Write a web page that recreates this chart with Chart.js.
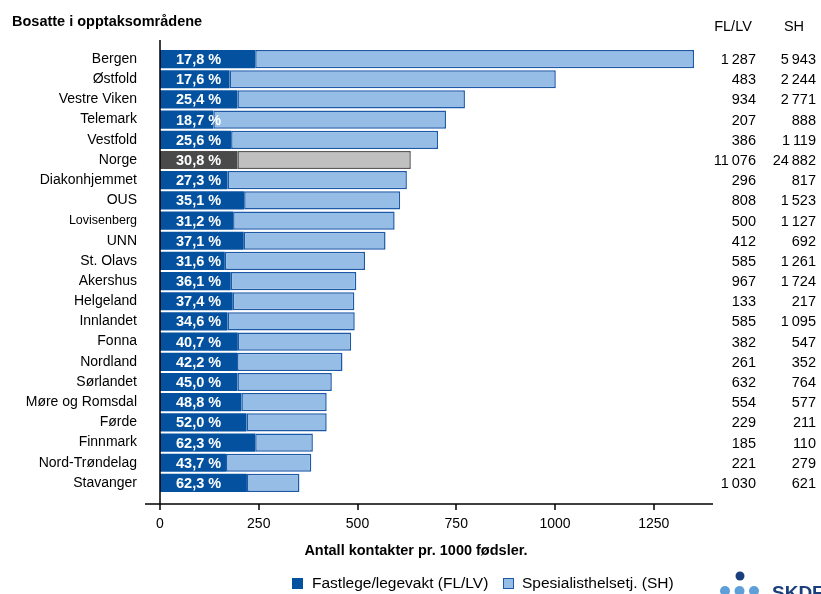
<!DOCTYPE html>
<html>
<head>
<meta charset="utf-8">
<script src="https://cdn.jsdelivr.net/npm/chart.js@4.4.1/dist/chart.umd.min.js"></script>
<style>
  body { margin: 0; background: #fff; }
  #wrap { width: 821px; height: 594px; position: relative; }
</style>
</head>
<body>
<div id="wrap"><canvas id="chart" width="821" height="594"></canvas></div>
<script>
// Data lest av figuren
const categories = ['Bergen', 'Østfold', 'Vestre Viken', 'Telemark', 'Vestfold', 'Norge', 'Diakonhjemmet',
    'OUS', 'Lovisenberg', 'UNN', 'St. Olavs', 'Akershus', 'Helgeland', 'Innlandet', 'Fonna', 'Nordland',
    'Sørlandet', 'Møre og Romsdal', 'Førde', 'Finnmark', 'Nord-Trøndelag', 'Stavanger'];
const flValues = [241, 176, 196, 135, 180, 196, 171, 213, 185, 212, 164, 179, 184, 171, 197, 195, 196, 206, 219, 241, 167, 220];
const shValues = [1111, 826, 576, 589, 524, 439, 454, 395, 409, 359, 355, 318, 308, 322, 287, 267, 239, 216, 203, 146, 216, 133];
const pctLabels = ['17,8 %', '17,6 %', '25,4 %', '18,7 %', '25,6 %', '30,8 %', '27,3 %', '35,1 %', '31,2 %', '37,1 %',
    '31,6 %', '36,1 %', '37,4 %', '34,6 %', '40,7 %', '42,2 %', '45,0 %', '48,8 %', '52,0 %', '62,3 %', '43,7 %', '62,3 %'];
const flCounts = [1287, 483, 934, 207, 386, 11076, 296, 808, 500, 412, 585, 967, 133, 585, 382, 261, 632, 554, 229, 185, 221, 1030];
const shCounts = [5943, 2244, 2771, 888, 1119, 24882, 817, 1523, 1127, 692, 1261, 1724, 217, 1095, 547, 352, 764, 577, 211, 110, 279, 621];
const xTicks = [0, 250, 500, 750, 1000, 1250];

const FONT = 'Liberation Sans, Arial, sans-serif';
const darkBlue = '#0451a0';
const lightBlue = '#96bde6';
const borderBlue = '#1c5aa8';

// Norge i grått
const flColors = categories.map(c => c === 'Norge' ? '#4a4a4a' : darkBlue);
const shColors = categories.map(c => c === 'Norge' ? '#c0c0c0' : lightBlue);
const shBorders = categories.map(c => c === 'Norge' ? '#5a5a5a' : borderBlue);

function fmt(n) {
    return String(n).replace(/\B(?=(\d{3})+(?!\d))/g, '\u2009');
}

// Tegner tekst, akser, tabell og legende rundt selve plottet
const extras = {
    id: 'extras',
    afterDraw(chart) {
        const ctx = chart.ctx;
        const y = chart.scales.y;
        const x = chart.scales.x;
        ctx.save();

        // tittel
        ctx.fillStyle = '#000';
        ctx.font = 'bold 14.5px ' + FONT;
        ctx.textAlign = 'left';
        ctx.textBaseline = 'middle';
        ctx.fillText('Bosatte i opptaksområdene', 12, 22);

        // kolonneoverskrifter
        ctx.font = '14.5px ' + FONT;
        ctx.textAlign = 'center';
        ctx.fillText('FL/LV', 733, 27);
        ctx.fillText('SH', 794, 27);

        categories.forEach((c, i) => {
            const py = y.getPixelForValue(i);
            ctx.fillStyle = '#000';
            ctx.font = '14.5px ' + FONT;
            ctx.textAlign = 'right';
            ctx.fillText(fmt(flCounts[i]), 756, py + 1);
            ctx.fillText(fmt(shCounts[i]), 816, py + 1);
            // prosent i søylen
            ctx.fillStyle = '#fff';
            ctx.font = 'bold 14.5px ' + FONT;
            ctx.textAlign = 'left';
            ctx.fillText(pctLabels[i], 176, py + 1);
        });

        // akselinjer
        ctx.strokeStyle = '#000';
        ctx.lineWidth = 1.5;
        ctx.beginPath();
        ctx.moveTo(160, 40);
        ctx.lineTo(160, 510);
        ctx.moveTo(145, 504);
        ctx.lineTo(713, 504);
        xTicks.forEach(t => {
            const px = Math.round(x.getPixelForValue(t));
            ctx.moveTo(px, 504);
            ctx.lineTo(px, 510);
        });
        ctx.stroke();

        // aksetittel
        ctx.fillStyle = '#000';
        ctx.font = 'bold 14.5px ' + FONT;
        ctx.textAlign = 'center';
        ctx.fillText('Antall kontakter pr. 1000 fødsler.', 416, 551);

        // legende
        ctx.font = '15.5px ' + FONT;
        ctx.textAlign = 'left';
        ctx.fillStyle = darkBlue;
        ctx.fillRect(292, 578, 11, 11);
        ctx.fillStyle = '#000';
        ctx.fillText(chart.data.datasets[0].label, 312, 584);
        ctx.fillStyle = lightBlue;
        ctx.fillRect(503, 578, 11, 11);
        ctx.strokeStyle = borderBlue;
        ctx.lineWidth = 1;
        ctx.strokeRect(503.5, 578.5, 10, 10);
        ctx.fillStyle = '#000';
        ctx.fillText(chart.data.datasets[1].label, 522, 584);

        // SKDE-logo
        ctx.fillStyle = '#1b3f7c';
        ctx.beginPath();
        ctx.arc(740, 576, 4.5, 0, Math.PI * 2);
        ctx.fill();
        ctx.fillStyle = '#5e9fd8';
        [725, 739.5, 754].forEach(cx => {
            ctx.beginPath();
            ctx.arc(cx, 591, 5, 0, Math.PI * 2);
            ctx.fill();
        });
        ctx.fillStyle = '#1b3f7c';
        ctx.font = 'bold 19px ' + FONT;
        ctx.textBaseline = 'alphabetic';
        ctx.fillText('SKDE', 772, 599);

        ctx.restore();
    }
};

new Chart(document.getElementById('chart'), {
    type: 'bar',
    data: {
        labels: categories,
        datasets: [{
            label: 'Fastlege/legevakt (FL/LV)',
            data: flValues,
            backgroundColor: flColors,
            borderWidth: 0,
            barPercentage: 0.9,
            categoryPercentage: 1
        }, {
            label: 'Spesialisthelsetj. (SH)',
            data: shValues,
            backgroundColor: shColors,
            borderColor: shBorders,
            borderWidth: 1.5,
            borderSkipped: false,
            barPercentage: 0.9,
            categoryPercentage: 1
        }]
    },
    options: {
        indexAxis: 'y',
        responsive: false,
        animation: false,
        layout: { padding: { top: 49, right: 108, bottom: 0, left: 0 } },
        plugins: {
            legend: { display: false },
            tooltip: { enabled: false }
        },
        scales: {
            x: {
                stacked: true,
                min: 0,
                max: 1400,
                grid: { display: false },
                border: { display: false },
                afterBuildTicks: s => { s.ticks = xTicks.map(v => ({ value: v })); },
                afterFit: s => { s.height = 101; },
                ticks: {
                    padding: 15,
                    color: '#000',
                    font: { family: FONT, size: 14 },
                    callback: v => String(v)
                }
            },
            y: {
                stacked: true,
                grid: { display: false },
                border: { display: false },
                afterFit: s => { s.width = 160; },
                ticks: {
                    padding: 15,
                    color: '#000',
                    autoSkip: false,
                    font: ctx => ({ family: FONT, size: categories[ctx.index] === 'Lovisenberg' ? 12.5 : 14 })
                }
            }
        }
    },
    plugins: [extras]
});
</script>
</body>
</html>
